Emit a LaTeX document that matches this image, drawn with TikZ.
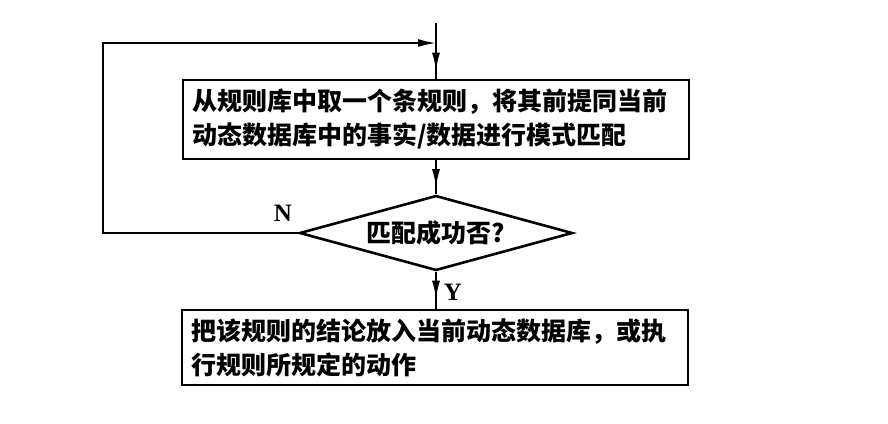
\documentclass[tikz,border=0pt]{standalone}
\usepackage{fontspec}
\setmainfont{Liberation Serif}
\newfontfamily\cjk{Noto Sans CJK SC}
\usepackage{tikz}
\usetikzlibrary{shapes.geometric, arrows.meta}

\begin{document}
\begin{tikzpicture}[
			x=1pt, y=-1pt,
			box/.style={draw, rectangle, line width=2.6pt, align=left, text width=488pt, inner xsep=9pt, inner ysep=0pt, font=\cjk\bfseries\fontsize{25}{34}\selectfont},
			check/.style={draw, diamond, line width=2.6pt, aspect=3.6, inner sep=0pt, minimum width=273pt, minimum height=75pt, font=\cjk\bfseries\fontsize{25}{30}\selectfont},
			wire/.style={line width=1.8pt},
			arrow/.style={-{Latex[length=18pt, width=8pt]}, line width=1.8pt},
			yn/.style={font=\bfseries\fontsize{25}{30}\selectfont}
			]
			\useasboundingbox (0,0) rectangle (888,423);
			
			% Kasten und Raute
			\node[box, minimum height=79pt] (fetch) at (436,119.5) {从规则库中取一个条规则，将其前提同当前\\动态数据库中的事实/数据进行模式匹配};
			\node[check] (match) at (436,233) {匹配成功否?};
			\node[box, minimum height=75pt] (act) at (435,347.5) {把该规则的结论放入当前动态数据库，或执\\行规则所规定的动作};
			
			\coordinate (entry) at (436,23);
			\coordinate (join) at (436,43);
			
			% Verbindungen
			\draw[wire] (entry) -- (fetch.north);
			\draw[arrow, shorten >=8pt] (entry) -- (fetch.north);
			\draw[wire] (fetch.south) -- (match.north);
			\draw[arrow, shorten >=7pt] (fetch.south) -- (match.north);
			\draw[wire] (match.south) -- (act.north -| match.south);
			\draw[arrow, shorten >=10pt] (match.south) -- (act.north -| match.south);
			\draw[arrow] (match.west) -- ++(-195,0) |- (join);
			
			\node[yn] (no) at (283,213) {N};
			\node[yn] (yes) at (453,292) {Y};
			
		\end{tikzpicture}
\end{document}
